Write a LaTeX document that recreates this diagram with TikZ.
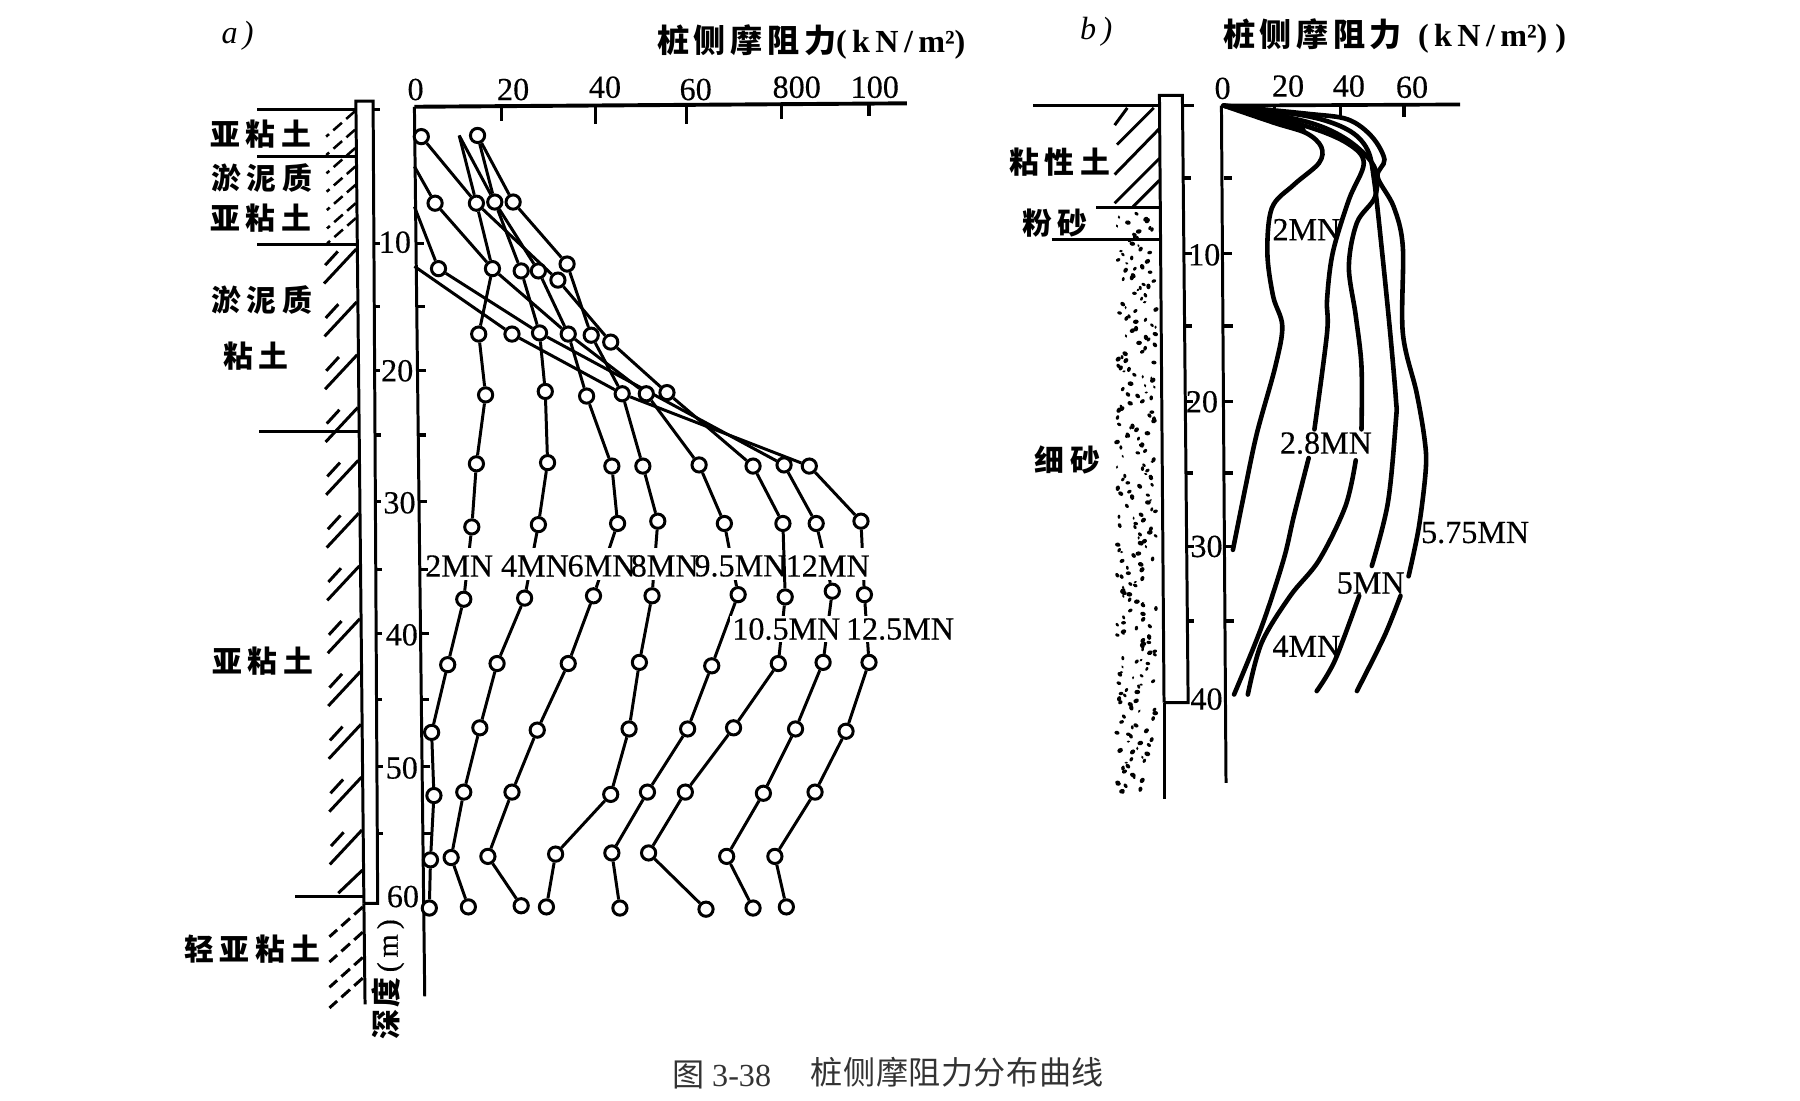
\documentclass[tikz,border=0pt]{standalone}
\usepackage{fontspec}
\setmainfont{Liberation Serif}
\newfontfamily\cjk{Noto Sans CJK SC}
\newfontfamily\heavy[FakeBold=0.35]{Liberation Serif}
\newcommand{\cgap}{\hspace{2.5pt}}
\pgfdeclarelayer{lines}
\pgfsetlayers{lines,main}
\tikzset{
  pt/.style={circle,draw,fill=white,inner sep=0pt,minimum size=6.2pt,line width=1.3pt},
  ln/.style={line width=1.3pt},
  ax/.style={line width=1.3pt},
  tick/.style={line width=1.4pt},
  hat/.style={line width=1.3pt},
  dsh/.style={line width=1.3pt,dash pattern=on 5pt off 2.5pt},
  curve/.style={line width=2pt,line cap=round,smooth,tension=0.55},
  num/.style={font=\heavy\fontsize{14}{16}\selectfont,inner sep=0pt},
  mn/.style={font=\heavy\fontsize{14}{16}\selectfont,inner sep=0pt},
  mnw/.style={mn,fill=white,inner sep=1pt},
  ital/.style={font=\itshape\fontsize{14}{16}\selectfont,inner sep=0pt},
  soil/.style={font=\cjk\bfseries\fontsize{13}{15}\selectfont,inner sep=0pt},
  ttl/.style={font=\bfseries\fontsize{14}{16}\selectfont,inner sep=0pt},
  capt/.style={font=\fontsize{14}{16}\selectfont,inner sep=0pt,text=black!80}
}
\begin{document}
\begin{tikzpicture}[x=0.5pt,y=-0.5pt]
\useasboundingbox (0,0) rectangle (1568,959);

% ---------- panel a: headings
\node[ital] (lblA) at (207,31) {a\,)};
\node[ttl,anchor=west] (ttlA) at (572,37) {{\cjk 桩\hspace{2pt}侧\hspace{2pt}摩\hspace{2pt}阻\hspace{2pt}力}(\,k\,N\,/\,m²)};

% pile a
\coordinate (pTL) at (310,88); \coordinate (pTR) at (325,88);
\coordinate (pBL) at (317,787); \coordinate (pBR) at (329,787);
\coordinate (pEnd) at (318,875);
\draw[ax] (pBL) -- (pTL) -- (pTR) -- (pBR) -- (pBL);
\draw[ax] (pBL) -- (pEnd);

% ground / layer lines a
\foreach \n/\xa/\xb/\yy in {g1/224/310/95,g2/224/309/136,g3/224/311/213,g4/226/312/376,g5/257/316/781}{
  \coordinate (\n a) at (\xa,\yy); \coordinate (\n b) at (\xb,\yy);
  \draw[ax] (\n a) -- (\n b);
}
\draw[ax] (325,95) -- (331,95);

% hatching a
\foreach \yy in {97,113,129,145,161,177,190}{
  \pgfmathsetmacro\px{310+0.01*(\yy-88)}
  \draw[dsh,line width=1.1pt] (\px-1,\yy) -- (\px-26,\yy+22);
}
\foreach \yy in {217,263,309,355,401,447,493,539,585,631,677,723}{
  \pgfmathsetmacro\px{310+0.01*(\yy-88)}
  \draw[hat] (\px-1,\yy) -- (\px-29,\yy+30);
  \draw[hat] (\px-17,\yy+2) -- (\px-28,\yy+14);
}
\foreach \yy in {758}{
  \pgfmathsetmacro\px{310+0.01*(\yy-88)}
  \draw[hat] (\px-1,\yy) -- (\px-22,\yy+20);
}
\foreach \yy in {790,812,834,852}{
  \draw[dsh] (316,\yy) -- (287,\yy+26);
}

% axes a
\coordinate (axA0) at (361,93); \coordinate (axAr) at (790,90); \coordinate (axAb) at (370,868);
\draw[ax,line width=1.7pt] (axA0) -- (axAr);
\draw[ax] (axA0) -- (axAb);
\foreach \xx/\yb in {437/105,519/108,598/108,681/104,757/101}{
  \draw[tick] (\xx,91) -- (\xx,\yb);
}
\foreach \yy in {212,267,323,379,437,496,552,609,668,726}{
  \pgfmathsetmacro\ax{361+(\yy-92)*0.0116}
  \pgfmathsetmacro\pr{325+(\yy-88)*0.0057}
  \draw[tick] (\ax,\yy) -- (\ax+7,\yy);
  \draw[tick] (\pr,\yy) -- (\pr+5,\yy);
}
\foreach \n/\xx/\yy/\t in {x0/362/78/0,x1/447/78/20,x2/527/76/40,x3/606/78/60,x4/694/76/800,x5/762/76/100}{
  \node[num] (\n) at (\xx,\yy) {\t};
}
\foreach \n/\xx/\yy/\t in {d1/344/211/10,d2/346/323/20,d3/348/438/30,d4/350/553/40,d5/350/669/50,d6/351/781/60}{
  \node[num] (\n) at (\xx,\yy) {\t};
}
\node[num,rotate=90,font=\heavy\fontsize{13}{15}\selectfont] (depth) at (338,853) {{\cjk\bfseries 深\hspace{1pt}度}\,(\,m\,)};

% soil labels a
\node[soil] (sA1) at (227,117) {亚\cgap 粘\cgap 土};
\node[soil] (sA2) at (228,155) {淤\cgap 泥\cgap 质};
\node[soil] (sA3) at (227,190) {亚\cgap 粘\cgap 土};
\node[soil] (sA4) at (228,261) {淤\cgap 泥\cgap 质};
\node[soil] (sA5) at (223,310) {粘\cgap 土};
\node[soil] (sA6) at (229,576) {亚\cgap 粘\cgap 土};
\node[soil] (sA7) at (220,827) {轻\cgap 亚\cgap 粘\cgap 土};

% data points a
\foreach \n/\xx/\yy in {
 r1a/367/119,r1b/416/118,
 r2a/379/177,r2b/415/177,r2c/431/176,r2d/447/176,
 r3a/382/234,r3b/429/234,r3c/454/236,r3d/469/236,r3e/486/244,r3f/494/230,
 r4a/417/291,r4b/446/291,r4c/470/290,r4d/495/291,r4e/515/292,r4f/532/298,
 r5a/423/344,r5b/475/341,r5c/511/345,r5d/542/343,r5e/563/343,r5f/581/342,
 r6a/415/404,r6b/477/403,r6c/533/406,r6d/560/406,r6e/609/405,r6f/656/406,r6g/683/405,r6h/705/406,
 r7a/411/459,r7b/469/457,r7c/538/456,r7d/573/454,r7e/631/456,r7f/682/456,r7g/711/456,r7h/750/454,
 r8a/404/522,r8b/457/521,r8c/517/519,r8d/568/519,r8e/643/518,r8f/684/520,r8g/725/515,r8h/753/518,
 r9a/390/579,r9b/433/578,r9c/495/578,r9d/557/577,r9e/620/580,r9f/678/578,r9g/717/577,r9h/757/577,
 r10a/376/638,r10b/418/634,r10c/468/636,r10d/548/635,r10e/599/635,r10f/639/634,r10g/693/635,r10h/737/637,
 r11a/378/693,r11b/404/690,r11c/446/690,r11d/532/692,r11e/564/690,r11f/597/690,r11g/665/691,r11h/710/690,
 r12a/375/749,r12b/393/747,r12c/425/746,r12d/484/744,r12e/533/743,r12f/565/743,r12g/633/746,r12h/675/746,
 r13a/374/791,r13b/408/790,r13c/454/789,r13d/476/790,r13e/540/791,r13f/615/792,r13g/656/791,r13h/685/790}{
  \node[pt] (\n) at (\xx,\yy) {};
}
\coordinate (fr) at (400,118);
\coordinate (s1) at (361,145);
\coordinate (s2) at (361,180);
\coordinate (s3) at (361,232);

\begin{pgfonlayer}{lines}
\draw[ln] (fr)--(r2b)--(r3b)--(r4a)--(r5a)--(r6a)--(r7a)--(r8a)--(r9a)--(r10a)--(r11a)--(r12a)--(r13a);
\draw[ln] (fr)--(r2c)--(r3c)--(r4c)--(r5b)--(r6b)--(r7b)--(r8b)--(r9b)--(r10b)--(r11b)--(r12b)--(r13b);
\draw[ln] (r1b)--(r2c)--(r3d)--(r4d)--(r5c)--(r6c)--(r7c)--(r8c)--(r9c)--(r10c)--(r11c)--(r12c)--(r13c);
\draw[ln] (r1b)--(r2d)--(r3f)--(r4e)--(r5d)--(r6d)--(r7d)--(r8d)--(r9d)--(r10d)--(r11d)--(r12d)--(r13d);
\draw[ln] (s1)--(r2a)--(r3b)--(r4d)--(r5e)--(r6e)--(r7e)--(r8e)--(r9e)--(r10e)--(r11e)--(r12e)--(r13e);
\draw[ln] (r1a)--(r2b)--(r3e)--(r4f)--(r5f)--(r6f)--(r7f);
\draw[ln] (r8f)--(r9f)--(r10f)--(r11f)--(r12f)--(r13f);
\draw[ln] (s2)--(r3a)--(r4c)--(r6g)--(r7g)--(r8g)--(r9g)--(r10g)--(r11g)--(r12g)--(r13g);
\draw[ln] (s3)--(r4b)--(r5d)--(r6h)--(r7h)--(r8h)--(r9h)--(r10h)--(r11h)--(r12h)--(r13h);
\fill[white] (376,477) rectangle (762,505);
\draw[ln] (r7f)--(r8f);
\end{pgfonlayer}

\node[mn] (m2) at (400,493) {2MN};
\node[mn] (m4) at (466,493) {4MN};
\node[mn] (m6) at (524,493) {6MN};
\node[mn] (m8) at (579,493) {8MN};
\node[mn] (m95) at (645,493) {9.5MN};
\node[mn] (m12) at (721,493) {12MN};
\node[mnw] (m105) at (685,548) {10.5MN};
\node[mnw] (m125) at (784,548) {12.5MN};

% ---------- panel b: headings
\node[ital] (lblB) at (955,28) {b\,)};
\node[ttl,anchor=west] (ttlB) at (1065,31) {{\cjk\bfseries 桩\hspace{2pt}侧\hspace{2pt}摩\hspace{2pt}阻\hspace{2pt}力}\ \ (\,k\,N\,/\,m²)\ )};

% pile b
\coordinate (qTL) at (1010,83); \coordinate (qTR) at (1030,83);
\coordinate (qBL) at (1014,612); \coordinate (qBR) at (1035,612);
\coordinate (qEnd) at (1014,696);
\draw[ax] (qBL) -- (qTL) -- (qTR) -- (qBR) -- (qBL);
\draw[ax] (qBL) -- (qEnd);

% ground and layers b
\coordinate (gB1) at (900,92); \coordinate (gB2) at (1010,92);
\draw[ax,line width=1.5pt] (gB1) -- (gB2);
\draw[ax] (1030,92) -- (1040,92);
\draw[ax] (955,181) -- (1011,181);
\draw[ax] (916,209) -- (1011,209);
\foreach \xa/\ya/\xb/\yb in {982/94/971/109,1005/94/973/126,1010/112/971/152,1010/138/971/177,1010/157/987/180}{
  \draw[hat] (\xa,\ya) -- (\xb,\yb);
}
% sand stipple (scattered dots from integer remainders)
\foreach \i in {1,...,250}{
  \edef\sdxa{\the\numexpr \i*\i*7+\i*13\relax}
  \edef\sdxo{\the\numexpr \sdxa-3400*(\sdxa/3400)\relax}
  \edef\sdyo{\the\numexpr \i*1373-5060*(\i*1373/5060)\relax}
  \edef\sdra{\the\numexpr \i*\i*3+\i\relax}
  \edef\sdro{\the\numexpr \sdra-130*(\sdra/130)\relax}
  \edef\sdqo{\the\numexpr \i*47-180*(\i*47/180)\relax}
  \pgfmathsetmacro\sdx{990+\sdxo/100}
  \pgfmathsetmacro\sdy{439+\sdyo/10}
  \pgfmathsetmacro\sdr{1.45+\sdro/110}
  \pgfmathsetmacro\sdw{\sdr+0.6}
  \fill[shift={(\sdx,\sdy)},rotate=\sdqo] (0,0) ellipse[x radius=\sdw,y radius=\sdr];
}

% axes b
\coordinate (axB0) at (1064,92); \coordinate (axBr) at (1272,91); \coordinate (axBb) at (1068,682);
\draw[ax,line width=1.6pt] (axB0) -- (axBr);
\draw[ax] (axB0) -- (axBb);
\foreach \xx in {1110,1168,1223}{
  \draw[tick] (\xx,91) -- (\xx,102);
}
\foreach \yy in {155,221,284,350,412,476,541}{
  \pgfmathsetmacro\ax{1066+(\yy-92)*0.0034}
  \pgfmathsetmacro\pr{1031+(\yy-88)*0.0076}
  \draw[tick] (\ax,\yy) -- (\ax+7,\yy);
  \draw[tick] (\pr,\yy) -- (\pr+6,\yy);
}
\foreach \n/\xx/\yy/\t in {y0/1065/77/0,y1/1122/75/20,y2/1175/75/40,y3/1230/76/60,e1/1049/222/10,e2/1047/350/20,e3/1051/476/30,e4/1051/609/40}{
  \node[num] (\n) at (\xx,\yy) {\t};
}

% soil labels b
\node[soil] (sB1) at (923,141) {粘\cgap 性\cgap 土};
\node[soil] (sB2) at (919,194) {粉\cgap 砂};
\node[soil] (sB3) at (930,401) {细\cgap 砂};

% curves b
\fill (1064,91) -- (1110,95) -- (1132,104) -- (1138,114) -- (1110,108) -- cycle;
\draw[curve] plot coordinates {(1066,92) (1110,107) (1138,116) (1151,128) (1149,142) (1127,161) (1108,181) (1104,220) (1109,258) (1117,284) (1111,319) (1095,377) (1085,424) (1074,479)};
\draw[curve] plot coordinates {(1066,92) (1138,110) (1174,125) (1188,142) (1175,174) (1161,220) (1156,261) (1156,290) (1145,374)};
\draw[curve] plot coordinates {(1140,399) (1127,450) (1118,488) (1099,546) (1075,605)};
\draw[curve] plot coordinates {(1066,92) (1138,106) (1174,122) (1197,145) (1198,171) (1182,194) (1175,232) (1181,275) (1186,319) (1186,374)};
\draw[curve] plot coordinates {(1181,401) (1172,441) (1149,488) (1124,519) (1099,560) (1087,605)};
\draw[curve] plot coordinates {(1066,92) (1138,101) (1174,113) (1191,130) (1197,157) (1204,220) (1211,290) (1216,348) (1216,366) (1209,438) (1195,493)};
\draw[curve] plot coordinates {(1184,519) (1163,575) (1147,602)};
\draw[curve] plot coordinates {(1066,92) (1138,99) (1174,104) (1195,119) (1206,139) (1200,154) (1214,180) (1222,215) (1222,290) (1234,342) (1241,383) (1242,409) (1236,459) (1227,502)};
\draw[curve] plot coordinates {(1220,519) (1206,554) (1182,602)};

\node[mn] (b2) at (1138,200) {2MN};
\node[mn] (b28) at (1155,386) {2.8MN};
\node[mn] (b575) at (1285,464) {5.75MN};
\node[mn] (b5) at (1194,508) {5MN};
\node[mn] (b4) at (1138,563) {4MN};

% caption
\node[capt,anchor=west] (cap) at (585,936) {{\cjk 图}\ 3-38};
\node[capt,anchor=west] (cap2) at (706,934) {\cjk 桩\hspace{0.2pt}侧\hspace{0.2pt}摩\hspace{0.2pt}阻\hspace{0.2pt}力\hspace{0.2pt}分\hspace{0.2pt}布\hspace{0.2pt}曲\hspace{0.2pt}线};
\end{tikzpicture}
\end{document}
